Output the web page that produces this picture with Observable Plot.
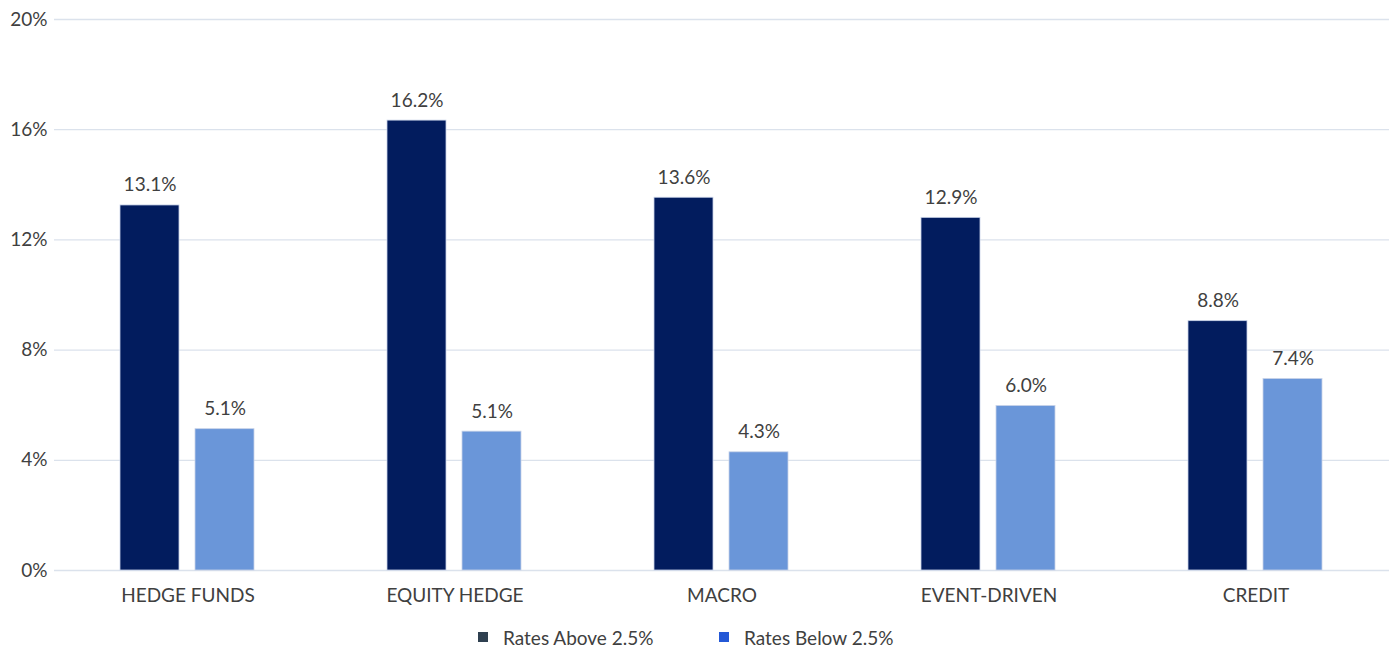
<!DOCTYPE html>
<html>
<head>
<meta charset="utf-8">
<script src="https://cdn.jsdelivr.net/npm/d3@7"></script>
<script src="https://cdn.jsdelivr.net/npm/@observablehq/plot@0.6"></script>
<style>
  html, body { margin: 0; padding: 0; background: #fff; }
  body { width: 1397px; font-family: Lato, "Open Sans", sans-serif; color: #404040; }
  #legend { position: relative; height: 36px; font-size: 19px; color: #404040; }
  .item { position: absolute; top: 11px; display: flex; align-items: center; height: 24px; }
  .sw { width: 10px; height: 10px; margin-right: 15px; }
</style>
</head>
<body>
<div id="chart"></div>
<div id="legend"></div>
<script>
const categories = ["HEDGE FUNDS", "EQUITY HEDGE", "MACRO", "EVENT-DRIVEN", "CREDIT"];
const seriesNames = ["Rates Above 2.5%", "Rates Below 2.5%"];
// bar heights as drawn in the picture
const ratesAbove = [13.25, 16.33, 13.53, 12.8, 9.05];
const ratesBelow = [5.13, 5.04, 4.29, 5.97, 6.95];
// value labels as printed in the picture
const labelsAbove = ["13.1%", "16.2%", "13.6%", "12.9%", "8.8%"];
const labelsBelow = ["5.1%", "5.1%", "4.3%", "6.0%", "7.4%"];
const yTicks = [0, 4, 8, 12, 16, 20];
const barColors = ["#021c5e", "#6a96d9"];
const legendColors = ["#2f4050", "#2458d6"];

const data = [];
categories.forEach((c, i) => {
  data.push({cat: c, series: seriesNames[0], value: ratesAbove[i], label: labelsAbove[i]});
  data.push({cat: c, series: seriesNames[1], value: ratesBelow[i], label: labelsBelow[i]});
});

const chart = Plot.plot({
  width: 1397,
  height: 614,
  marginLeft: 52,
  marginRight: 7,
  marginTop: 19,
  marginBottom: 44,
  style: {fontFamily: "Lato, 'Open Sans', sans-serif", fontSize: "19px", color: "#404040", background: "#fff"},
  fx: {domain: categories, padding: 0, label: null},
  x: {domain: seriesNames, paddingInner: 0.21, paddingOuter: 0.866, axis: null},
  y: {domain: [0, 20], ticks: yTicks, label: null},
  color: {domain: seriesNames, range: barColors},
  marks: [
    Plot.gridY(yTicks, {stroke: "#dbe2ec", strokeOpacity: 1, strokeWidth: 1.3}),
    Plot.axisY(yTicks, {tickSize: 0, tickPadding: 7, tickFormat: d => d + "%", label: null, fontSize: 19, fill: "#404040"}),
    Plot.axisFx({anchor: "bottom", tickSize: 0, tickPadding: 18, label: null, fontSize: 19, fill: "#404040"}),
    Plot.barY(data, {fx: "cat", x: "series", y: "value", fill: "series", stroke: "#c8d3e8", strokeWidth: 0.8}),
    Plot.text(data, {fx: "cat", x: "series", y: "value", text: "label", lineAnchor: "bottom", dy: -14, fontSize: 19, fill: "#404040"})
  ]
});
document.getElementById("chart").appendChild(chart);

const legend = document.getElementById("legend");
const legendLeft = [478, 719];
seriesNames.forEach((s, i) => {
  const item = document.createElement("div");
  item.className = "item";
  item.style.left = legendLeft[i] + "px";
  const sw = document.createElement("div");
  sw.className = "sw";
  sw.style.background = legendColors[i];
  const t = document.createElement("span");
  t.textContent = s;
  item.appendChild(sw);
  item.appendChild(t);
  legend.appendChild(item);
});
</script>
</body>
</html>
